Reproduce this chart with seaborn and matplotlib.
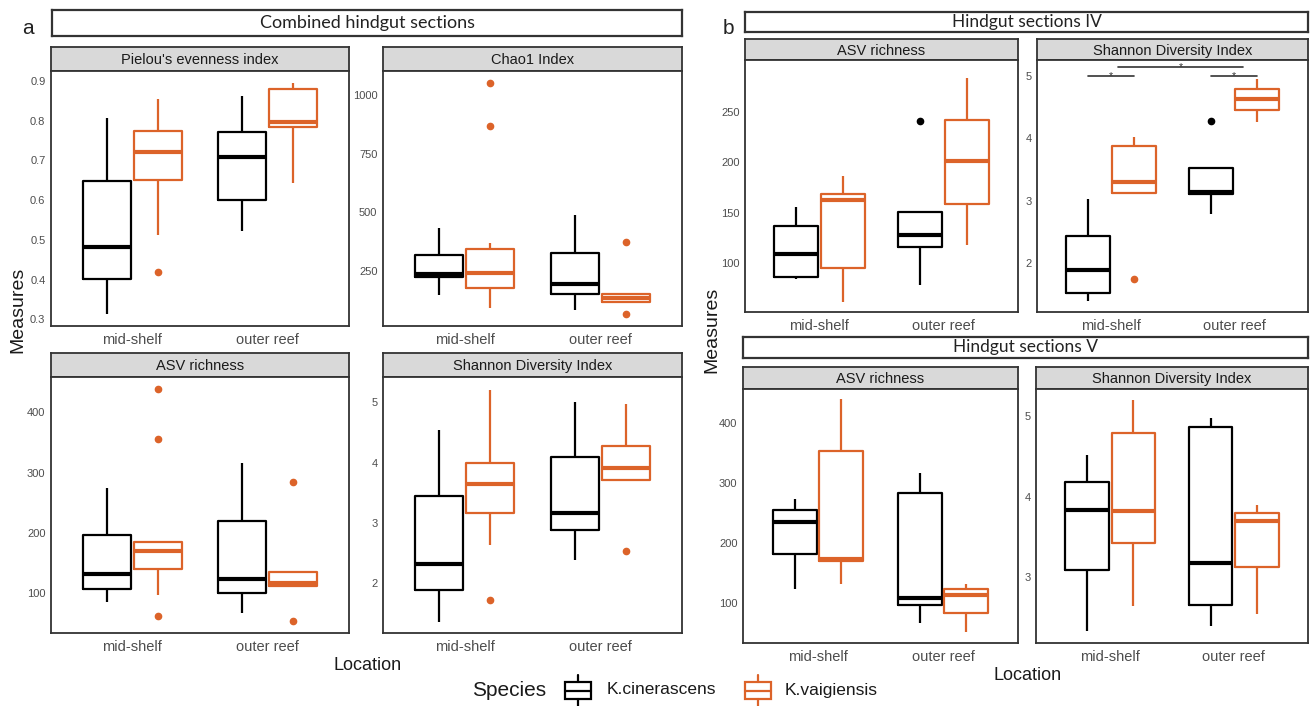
import pandas as pd
import matplotlib.pyplot as plt
import matplotlib.patches as mpatches
import seaborn as sns

# categories
locations = ['mid-shelf', 'outer reef']
species = ['K.cinerascens', 'K.vaigiensis']
colors = {'K.cinerascens': '#000000', 'K.vaigiensis': '#DC6329'}

# values read off the boxes (13 samples per group, fliers at the ends)
# a - Pielou's evenness
pielou_mid_kc = [0.313, 0.35, 0.38, 0.401, 0.43, 0.46, 0.483, 0.55, 0.61, 0.648, 0.70, 0.76, 0.806]
pielou_mid_kv = [0.420, 0.511, 0.60, 0.651, 0.68, 0.70, 0.722, 0.74, 0.76, 0.775, 0.80, 0.83, 0.855]
pielou_out_kc = [0.523, 0.55, 0.58, 0.600, 0.64, 0.68, 0.709, 0.73, 0.75, 0.772, 0.80, 0.83, 0.863]
pielou_out_kv = [0.642, 0.70, 0.76, 0.783, 0.788, 0.792, 0.796, 0.82, 0.85, 0.879, 0.884, 0.889, 0.894]
# a - Chao1
chao_mid_kc = [146, 180, 210, 224, 228, 232, 236, 260, 290, 317, 350, 390, 433]
chao_mid_kv = [90, 130, 160, 175, 200, 220, 239, 280, 310, 343, 367, 867, 1050]
chao_out_kc = [82, 110, 135, 150, 165, 180, 193, 240, 290, 327, 380, 430, 488]
chao_out_kv = [64, 118, 118, 118, 125, 130, 135, 140, 145, 150, 150, 150, 374]
# a - ASV richness
asv_mid_kc = [84, 95, 100, 106, 115, 124, 131, 150, 175, 196, 220, 250, 274]
asv_mid_kv = [62, 96, 120, 140, 155, 165, 170, 176, 180, 184, 186, 355, 439]
asv_out_kc = [67, 80, 92, 100, 110, 117, 123, 160, 195, 219, 250, 285, 316]
asv_out_kv = [53, 112, 112, 112, 114, 115, 116, 120, 128, 134, 134, 134, 284]
# a - Shannon
shan_mid_kc = [1.36, 1.6, 1.75, 1.89, 2.05, 2.2, 2.33, 2.8, 3.2, 3.45, 3.8, 4.2, 4.54]
shan_mid_kv = [1.73, 2.63, 2.9, 3.17, 3.35, 3.5, 3.64, 3.75, 3.88, 3.99, 4.4, 4.8, 5.20]
shan_out_kc = [2.39, 2.6, 2.75, 2.88, 2.98, 3.08, 3.17, 3.5, 3.8, 4.09, 4.4, 4.7, 5.0]
shan_out_kv = [2.54, 3.71, 3.71, 3.71, 3.78, 3.85, 3.91, 4.05, 4.18, 4.28, 4.5, 4.75, 4.98]
# b - section IV
asv4_mid_kc = [84, 85, 85.5, 86, 95, 102, 109, 118, 128, 137, 145, 150, 156]
asv4_mid_kv = [61, 75, 85, 95, 120, 145, 162.5, 165, 167, 168.5, 175, 180, 186]
asv4_out_kc = [78, 95, 108, 116, 120, 124, 127.5, 135, 143, 151, 151, 151, 241]
asv4_out_kv = [118, 135, 148, 159, 175, 190, 201, 215, 230, 242, 255, 270, 284]
shan4_mid_kc = [1.38, 1.43, 1.47, 1.51, 1.65, 1.78, 1.89, 2.1, 2.3, 2.43, 2.65, 2.85, 3.02]
shan4_mid_kv = [1.74, 3.13, 3.13, 3.13, 3.2, 3.25, 3.30, 3.5, 3.7, 3.87, 3.92, 3.97, 4.02]
shan4_out_kc = [2.79, 2.95, 3.05, 3.11, 3.12, 3.13, 3.14, 3.3, 3.42, 3.52, 3.52, 3.52, 4.28]
shan4_out_kv = [4.27, 4.35, 4.4, 4.45, 4.52, 4.58, 4.63, 4.7, 4.75, 4.79, 4.85, 4.9, 4.96]
# b - section V
asv5_mid_kc = [123, 150, 168, 181, 205, 225, 235.5, 242, 250, 255, 262, 268, 273]
asv5_mid_kv = [132, 150, 162, 170, 171, 172.5, 173.6, 240, 300, 354, 390, 420, 440]
asv5_out_kc = [66, 80, 90, 97, 101, 104, 108, 170, 240, 283, 295, 305, 317]
asv5_out_kv = [52, 65, 75, 83, 95, 105, 113, 117, 120, 123, 126, 129, 132]
shan5_mid_kc = [2.34, 2.6, 2.85, 3.09, 3.35, 3.6, 3.84, 3.95, 4.07, 4.18, 4.3, 4.42, 4.52]
shan5_mid_kv = [2.65, 2.95, 3.2, 3.43, 3.6, 3.72, 3.82, 4.2, 4.5, 4.79, 4.92, 5.05, 5.20]
shan5_out_kc = [2.40, 2.5, 2.58, 2.66, 2.85, 3.0, 3.18, 3.8, 4.4, 4.86, 4.9, 4.94, 4.97]
shan5_out_kv = [2.55, 2.75, 2.95, 3.13, 3.35, 3.55, 3.70, 3.74, 3.77, 3.80, 3.83, 3.86, 3.89]

# significance brackets on Shannon IV: (x0, x1, y)
sig_brackets = [(-0.19, 0.19, 5.0), (0.06, 1.07, 5.15), (0.81, 1.19, 5.0)]

W, H = 1312, 706
sns.set_theme(style='white')
plt.rcParams['font.family'] = ['Liberation Sans', 'DejaVu Sans']
fig = plt.figure(figsize=(W / 100, H / 100), dpi=100)
EDGE = '#333333'


def px(x0, y0, x1, y1):
    return [x0 / W, 1 - y1 / H, (x1 - x0) / W, (y1 - y0) / H]


def make_df(mid_kc, mid_kv, out_kc, out_kv):
    rows = []
    for loc, sp, vals in [('mid-shelf', species[0], mid_kc), ('mid-shelf', species[1], mid_kv),
                          ('outer reef', species[0], out_kc), ('outer reef', species[1], out_kv)]:
        for v in vals:
            rows.append({'Location': loc, 'Species': sp, 'value': v})
    return pd.DataFrame(rows)


def header(x0, y0, x1, y1, text, size=13):
    hx = fig.add_axes(px(x0, y0, x1, y1))
    hx.set_xticks([]); hx.set_yticks([])
    hx.set_facecolor('white')
    for s in hx.spines.values():
        s.set_color(EDGE); s.set_linewidth(1.6)
    hx.text(0.5, 0.5, text, ha='center', va='center', fontsize=size,
            family=['Lato', 'DejaVu Sans'], color='#222222', transform=hx.transAxes)


def panel(x0, x1, strip_top, y0, y1, title, df, ylim, yticks, ylabels):
    sx = fig.add_axes(px(x0, strip_top, x1, y0))
    sx.set_xticks([]); sx.set_yticks([])
    sx.set_facecolor('#D9D9D9')
    for s in sx.spines.values():
        s.set_color(EDGE); s.set_linewidth(1.3)
    sx.text(0.5, 0.45, title, ha='center', va='center', fontsize=10.5,
            color='#1A1A1A', transform=sx.transAxes)

    ax = fig.add_axes(px(x0, y0, x1, y1))
    sns.boxplot(data=df, x='Location', y='value', hue='Species', order=locations,
                hue_order=species, palette=colors, fill=False, width=0.75, gap=0.06,
                linewidth=1.6, legend=False, ax=ax,
                flierprops={'marker': 'o', 'markersize': 4.5},
                medianprops={'linewidth': 3.0},
                capprops={'linewidth': 0})
    for ln in ax.lines:
        if ln.get_marker() not in (None, 'None', ''):
            ln.set_markerfacecolor(ln.get_markeredgecolor())
    ax.set_xlim(-0.6, 1.6)
    ax.set_ylim(*ylim)
    ax.set_yticks(yticks)
    ax.set_yticklabels(ylabels, family=['Liberation Sans Narrow', 'Liberation Sans'])
    ax.set_xlabel('')
    ax.set_ylabel('')
    for s in ax.spines.values():
        s.set_color(EDGE); s.set_linewidth(1.3)
    ax.tick_params(axis='y', length=3, width=1, color=EDGE, labelsize=8, labelcolor='#4D4D4D', pad=1)
    ax.tick_params(axis='x', length=3, width=1, color=EDGE, labelsize=10.5, labelcolor='#4D4D4D', pad=2)
    ax.set_facecolor('white')
    return ax


# panel a
fig.text(28 / W, 1 - 28 / H, 'a', fontsize=15, ha='center', va='center', color='#222222')
header(52, 10, 682, 36, 'Combined hindgut sections')
panel(51, 349, 47, 71, 326, "Pielou's evenness index",
      make_df(pielou_mid_kc, pielou_mid_kv, pielou_out_kc, pielou_out_kv),
      (0.283, 0.925), [0.3, 0.4, 0.5, 0.6, 0.7, 0.8, 0.9],
      ['0.3', '0.4', '0.5', '0.6', '0.7', '0.8', '0.9'])
panel(383, 682, 47, 71, 326, 'Chao1 Index',
      make_df(chao_mid_kc, chao_mid_kv, chao_out_kc, chao_out_kv),
      (14, 1102), [250, 500, 750, 1000], ['250', '500', '750', '1000'])
panel(51, 349, 353, 377, 633, 'ASV richness',
      make_df(asv_mid_kc, asv_mid_kv, asv_out_kc, asv_out_kv),
      (33, 459), [100, 200, 300, 400], ['100', '200', '300', '400'])
panel(383, 682, 353, 377, 633, 'Shannon Diversity Index',
      make_df(shan_mid_kc, shan_mid_kv, shan_out_kc, shan_out_kv),
      (1.18, 5.42), [2, 3, 4, 5], ['2', '3', '4', '5'])
fig.text(18 / W, 1 - 310 / H, 'Measures', rotation=90, fontsize=14, ha='center', va='center', color='#1A1A1A')
fig.text(368 / W, 1 - 665 / H, 'Location', fontsize=13, ha='center', va='center', color='#1A1A1A')

# panel b
fig.text(728 / W, 1 - 28 / H, 'b', fontsize=15, ha='center', va='center', color='#222222')
header(745, 12, 1308, 32, 'Hindgut sections IV', size=12.5)
panel(745, 1018, 39, 60, 312, 'ASV richness',
      make_df(asv4_mid_kc, asv4_mid_kv, asv4_out_kc, asv4_out_kv),
      (51, 302), [100, 150, 200, 250], ['100', '150', '200', '250'])
ax4 = panel(1037, 1308, 39, 60, 312, 'Shannon Diversity Index',
            make_df(shan4_mid_kc, shan4_mid_kv, shan4_out_kc, shan4_out_kv),
            (1.21, 5.26), [2, 3, 4, 5], ['2', '3', '4', '5'])
for bx0, bx1, by in sig_brackets:
    ax4.plot([bx0, bx1], [by, by], color=EDGE, lw=1.2, clip_on=False)
    ax4.text((bx0 + bx1) / 2, by, '*', ha='center', va='center', fontsize=7.5, color=EDGE)
header(743, 337, 1308, 358, 'Hindgut sections V', size=12.5)
panel(743, 1018, 367, 389, 643, 'ASV richness',
      make_df(asv5_mid_kc, asv5_mid_kv, asv5_out_kc, asv5_out_kv),
      (33, 457), [100, 200, 300, 400], ['100', '200', '300', '400'])
panel(1036, 1308, 367, 389, 643, 'Shannon Diversity Index',
      make_df(shan5_mid_kc, shan5_mid_kv, shan5_out_kc, shan5_out_kv),
      (2.19, 5.33), [3, 4, 5], ['3', '4', '5'])
fig.text(712 / W, 1 - 330 / H, 'Measures', rotation=90, fontsize=14, ha='center', va='center', color='#1A1A1A')
fig.text(1028 / W, 1 - 675 / H, 'Location', fontsize=13, ha='center', va='center', color='#1A1A1A')

# legend
lx = fig.add_axes(px(450, 674, 910, 706))
lx.set_xlim(450, 910); lx.set_ylim(706, 674)
lx.axis('off')
lx.text(509, 690, 'Species', fontsize=15, ha='center', va='center', color='#1A1A1A')
for sp, gx, tx in [(species[0], 578, 607), (species[1], 758, 785)]:
    c = colors[sp]
    lx.add_patch(mpatches.Rectangle((gx - 13, 682), 26, 17, fill=False, edgecolor=c, lw=1.6))
    lx.plot([gx - 13, gx + 13], [690.5, 690.5], color=c, lw=1.6)
    lx.plot([gx, gx], [675, 682], color=c, lw=1.6)
    lx.plot([gx, gx], [699, 706], color=c, lw=1.6)
    lx.text(tx, 690, sp, fontsize=12.5, ha='left', va='center', color='#1A1A1A')

plt.savefig('out.png', dpi=100)
